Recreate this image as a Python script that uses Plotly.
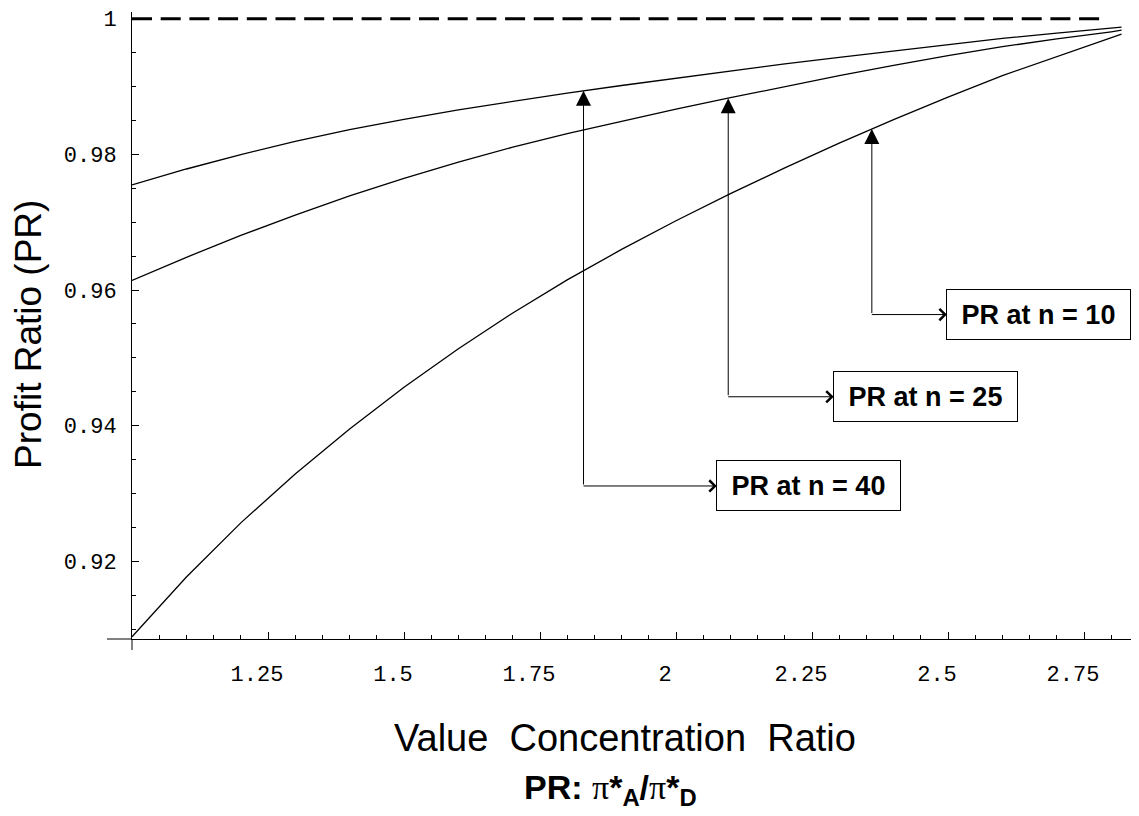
import numpy as np
import plotly.graph_objects as go

# ---------------- data ----------------
vcr = [1.0, 1.1, 1.2, 1.3, 1.4, 1.5, 1.6, 1.7, 1.8, 1.9, 2.0,
       2.1, 2.2, 2.3, 2.4, 2.5, 2.6, 2.7, 2.8, 2.819]

pr_n40 = [0.97549, 0.97784, 0.97997, 0.98190, 0.98363, 0.98517, 0.98657,
          0.98786, 0.98904, 0.99015, 0.99124, 0.99230, 0.99333, 0.99431,
          0.99527, 0.99619, 0.99709, 0.99788, 0.99862, 0.99875]

pr_n25 = [0.96141, 0.96482, 0.96804, 0.97105, 0.97386, 0.97646, 0.97885,
          0.98106, 0.98307, 0.98491, 0.98667, 0.98835, 0.98999, 0.99159,
          0.99311, 0.99455, 0.99587, 0.99703, 0.99807, 0.99830]

pr_n10 = [0.90889, 0.91768, 0.92567, 0.93287, 0.93951, 0.94567, 0.95134,
          0.95662, 0.96150, 0.96598, 0.97021, 0.97421, 0.97800, 0.98165,
          0.98513, 0.98845, 0.99161, 0.99445, 0.99721, 0.99772]

ref_x = [1.0, 2.793]
ref_y = [1.0, 1.0]

labels = ["PR at n = 40", "PR at n = 25", "PR at n = 10"]
arrow_x = [1.830, 2.096, 2.360]
box_x = [2.244, 2.459, 2.667]
box_y = [0.93111, 0.94426, 0.95638]

x_tickvals = [1.25, 1.5, 1.75, 2.0, 2.25, 2.5, 2.75]
x_ticktext = ["1.25", "1.5", "1.75", "2", "2.25", "2.5", "2.75"]
y_tickvals = [0.92, 0.94, 0.96, 0.98, 1.0]
y_ticktext = ["0.92", "0.94", "0.96", "0.98", "1"]

x_range = [1.0, 2.8511]
y_range = [0.90855, 1.000985]

# ---------------- figure ----------------
fig = go.Figure()

line_style = dict(color="black", width=1.3)
for ys in (pr_n40, pr_n25, pr_n10):
    fig.add_trace(go.Scatter(x=vcr, y=ys, mode="lines", line=line_style,
                             hoverinfo="skip", showlegend=False))

fig.add_trace(go.Scatter(x=ref_x, y=ref_y, mode="lines",
                         line=dict(color="black", width=3, dash="20px,8.7px"),
                         hoverinfo="skip", showlegend=False))

curves = [pr_n40, pr_n25, pr_n10]
annotations = []
for lab, ax_, bx, by, cy in zip(labels, arrow_x, box_x, box_y, curves):
    tip = float(np.interp(ax_, vcr, cy))
    # vertical arrow with filled triangle to the curve
    annotations.append(dict(
        x=ax_, y=tip, xref="x", yref="y",
        ax=ax_, ay=by, axref="x", ayref="y",
        text="", showarrow=True, arrowhead=2, arrowsize=3,
        arrowwidth=1, arrowcolor="black", standoff=0))
    # labelled box with an open head pointing into the box
    annotations.append(dict(
        x=ax_, y=by, xref="x", yref="y",
        ax=bx, ay=by, axref="x", ayref="y",
        text="<b>" + lab + "</b>",
        font=dict(family="Liberation Sans, Arial", size=27, color="black"),
        showarrow=True, arrowside="start", startarrowhead=4,
        startarrowsize=2.2, arrowwidth=1, arrowcolor="black",
        startstandoff=0, standoff=0,
        bgcolor="white", bordercolor="black", borderwidth=1,
        borderpad=3, width=177, height=43, align="center"))

# axis titles and plot label
annotations.append(dict(
    x=0.4896, y=-0.1574, xref="paper", yref="paper",
    text="Value\u00a0\u00a0Concentration\u00a0\u00a0Ratio",
    showarrow=False, xanchor="center", yanchor="middle",
    font=dict(family="Liberation Sans, Arial", size=38, color="black")))
annotations.append(dict(
    x=-0.1023, y=0.4865, xref="paper", yref="paper",
    text="Profit Ratio (PR)", textangle=-90,
    showarrow=False, xanchor="center", yanchor="middle",
    font=dict(family="Liberation Sans, Arial", size=37, color="black")))
pi = "<span style=\"font-family:'Liberation Serif', serif\">\u03c0</span>"
annotations.append(dict(
    x=0.4747, y=-0.240, xref="paper", yref="paper",
    text="<b>PR: </b>" + pi + "<b>*<sub>A</sub>/</b>" + pi + "<b>*<sub>D</sub></b>",
    showarrow=False, xanchor="center", yanchor="middle",
    font=dict(family="Liberation Sans, Arial", size=34, color="black")))

# axis line extensions (Mathematica-style crossing axes)
shapes = [
    dict(type="line", xref="paper", yref="paper", x0=-0.0248, x1=0, y0=0, y1=0,
         line=dict(color="black", width=1)),
    dict(type="line", xref="paper", yref="paper", x0=0, x1=0, y0=-0.0175, y1=0,
         line=dict(color="black", width=1)),
]

tick_font = dict(family="Liberation Mono, Courier New, monospace", size=22, color="black")

# the page body adds an 8px margin, so the figure is 8px smaller and the
# left/top margins are reduced by 8px to keep the plot area in place
fig.update_layout(
    width=1131, height=808,
    margin=dict(l=124, r=0, t=2, b=177),
    paper_bgcolor="white", plot_bgcolor="white",
    showlegend=False,
    annotations=annotations,
    shapes=shapes,
    xaxis=dict(range=x_range, showgrid=False, zeroline=False,
               showline=True, linecolor="black", linewidth=1,
               tickmode="array", tickvals=x_tickvals, ticktext=x_ticktext,
               ticks="inside", ticklen=7, tickwidth=1, tickcolor="black",
               tickfont=tick_font, ticklabelstandoff=15, ticklabelshift=-11,
               ticklabeloverflow="allow",
               minor=dict(tickmode="linear", tick0=1.0, dtick=0.05,
                          ticks="inside", ticklen=4, tickwidth=1,
                          tickcolor="black", showgrid=False)),
    yaxis=dict(range=y_range, showgrid=False, zeroline=False,
               showline=True, linecolor="black", linewidth=1,
               tickmode="array", tickvals=y_tickvals, ticktext=y_ticktext,
               ticks="inside", ticklen=7, tickwidth=1, tickcolor="black",
               tickfont=tick_font, ticklabelstandoff=10,
               ticklabeloverflow="allow",
               minor=dict(tickmode="linear", tick0=0.9, dtick=0.005,
                          ticks="inside", ticklen=4, tickwidth=1,
                          tickcolor="black", showgrid=False)),
)

fig.write_html("out.html")
